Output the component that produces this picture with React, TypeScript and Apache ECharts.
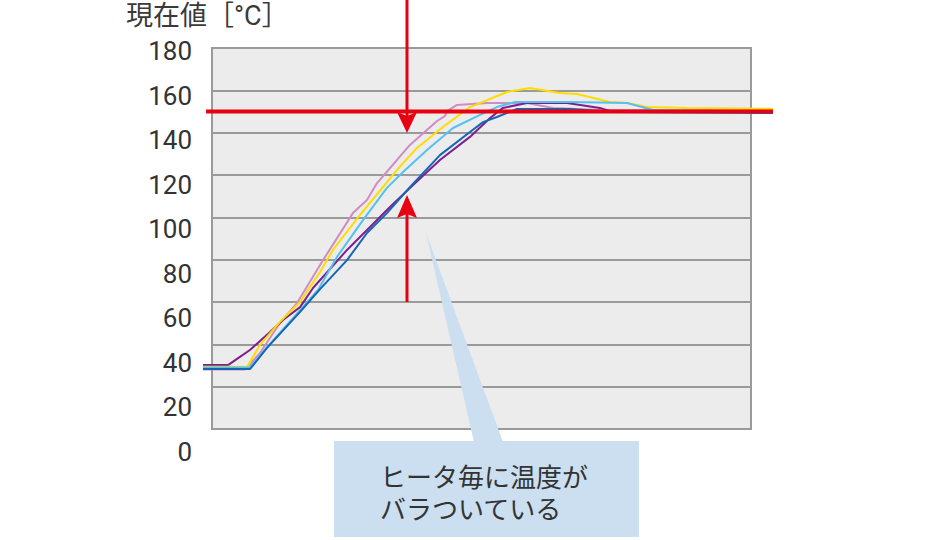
import React, { useEffect, useRef } from 'react';
import * as echarts from 'echarts';

// time [s] and temperature [°C]
const pinkSeries = [
  [0, 28.1], [22.1, 28.1], [30, 35.9], [40.5, 50.1], [49.5, 59.5], [63.2, 79.8],
  [78.9, 102], [86.3, 108.2], [91.6, 116.2], [102.1, 127.1], [108.9, 134.2],
  [123.2, 145.5], [127.4, 147.9], [128.4, 150.2], [133.7, 153.1], [149.5, 154],
  [170.5, 154], [184.2, 151.7], [208.9, 150.7], [300, 150.7],
];
const purpleSeries = [
  [0, 30.2], [13.2, 30.2], [17.9, 33.1], [24.7, 37.3], [35.3, 45.8], [42.1, 51.5],
  [51.1, 57.6], [57.9, 66.6], [75.8, 84.6], [87.9, 95.4], [98.4, 104.9],
  [108.9, 113.9], [124.7, 127.1], [140.5, 138], [151.1, 146.9], [157.9, 151.7],
  [170.5, 154], [191.6, 154], [208.9, 151.7], [215.8, 149.8], [300, 149.8],
];
const yellowSeries = [
  [0, 29.4], [23.2, 29.4], [30, 39.7], [40.5, 50.6], [51.1, 60], [61.6, 74.2],
  [68.4, 84.6], [82.6, 101.1], [94.7, 114.3], [102.1, 122.4], [112.6, 132.8],
  [126.3, 142.7], [140.5, 152.1], [160, 159.2], [172.1, 161.1], [187.9, 158.7],
  [196.8, 158.3], [214.2, 154.5], [223.2, 154], [233.7, 152.1], [254.7, 151.7],
  [300, 151.2],
];
const lightBlueSeries = [
  [0, 29.1], [24.7, 29.1], [33.7, 38.7], [51.1, 56.2], [60.5, 65.7], [70.5, 81.3],
  [84.2, 98.7], [96.8, 113.9], [105.3, 121.4], [117.9, 131.8], [131.6, 142.2],
  [145.8, 148.4], [154.7, 152.1], [164.2, 154.5], [193.2, 154.5], [223.2, 154],
  [236.8, 150.7], [300, 149.8],
];
const blueSeries = [
  [0, 28.3], [24.7, 28.3], [33.7, 38.3], [51.1, 55.3], [61.6, 66.1], [75.8, 79.8],
  [86.3, 92.6], [96.8, 102], [108.9, 114.3], [124.7, 129.4], [140.5, 140.3],
  [147.4, 145], [154.7, 147.4], [165.3, 151.2], [193.2, 151.2], [215.8, 149.8],
  [300, 149.3],
];
const targetLine = [[1.6, 150], [300, 150]];

const yTicks = { min: 0, max: 180, interval: 20 };
const yTitle = '現在値［°C］';
const calloutLines = ['ヒータ毎に温度が', 'バラついている'];

const App: React.FC = () => {
  const chartRef = useRef<HTMLDivElement>(null);

  useEffect(() => {
    if (!chartRef.current) return;
    const chart = echarts.init(chartRef.current, undefined, { renderer: 'svg' });

    const lineSeries = (data: number[][], color: string, width = 2) => ({
      type: 'line',
      xAxisIndex: 1,
      yAxisIndex: 1,
      data,
      symbol: 'none',
      silent: true,
      lineStyle: { color, width },
    });

    chart.setOption({
      animation: false,
      textStyle: { fontFamily: 'Roboto, "Noto Sans CJK JP", sans-serif' },
      grid: [
        {
          left: 212, right: 189, top: 48, bottom: 111,
          show: true, backgroundColor: '#ececec', borderColor: '#9a9a9a', borderWidth: 2,
        },
        { left: 203, right: 167, top: 48, bottom: 111 },
        { left: 200, right: 500, top: 51, bottom: 88 },
      ],
      xAxis: [
        { gridIndex: 0, type: 'value', min: 0, max: 1, show: false },
        { gridIndex: 1, type: 'value', min: 0, max: 300, show: false },
        { gridIndex: 2, type: 'value', min: 0, max: 1, show: false },
      ],
      yAxis: [
        {
          gridIndex: 0, type: 'value', ...yTicks,
          axisLine: { show: false }, axisTick: { show: false }, axisLabel: { show: false },
          splitLine: { show: true, lineStyle: { color: '#9a9a9a', width: 2 } },
        },
        { gridIndex: 1, type: 'value', ...yTicks, show: false },
        {
          gridIndex: 2, type: 'value', ...yTicks,
          axisLine: { show: false }, axisTick: { show: false }, splitLine: { show: false },
          axisLabel: { fontSize: 26, color: '#333', margin: 8 },
        },
      ],
      series: [
        lineSeries(pinkSeries, '#d08cc4'),
        lineSeries(purpleSeries, '#7f1f8c'),
        lineSeries(yellowSeries, '#ffdc00'),
        lineSeries(lightBlueSeries, '#55c1ee'),
        lineSeries(blueSeries, '#1565b5'),
        lineSeries(targetLine, '#e60012', 4),
      ],
      graphic: [
        {
          type: 'text', left: 126, top: 2, z: 100,
          style: {
            text: yTitle, fontSize: 27, fill: '#3a3a3a', fontWeight: 'normal',
            fontFamily: 'Roboto, "Noto Sans CJK JP"',
          },
        },
        // upper arrow
        { type: 'line', z: 100, shape: { x1: 407, y1: 0, x2: 407, y2: 116 }, style: { stroke: '#e60012', lineWidth: 3 } },
        { type: 'polygon', z: 100, shape: { points: [[397, 112], [407, 116], [417, 112], [407, 133]] }, style: { fill: '#e60012' } },
        // lower arrow
        { type: 'line', z: 100, shape: { x1: 407, y1: 214, x2: 407, y2: 302 }, style: { stroke: '#e60012', lineWidth: 3 } },
        { type: 'polygon', z: 100, shape: { points: [[397, 218], [407, 214], [417, 218], [407, 195]] }, style: { fill: '#e60012' } },
        // callout
        { type: 'polygon', z: 90, shape: { points: [[426, 233], [474, 442], [503, 442]] }, style: { fill: '#cbdff0' } },
        { type: 'rect', z: 90, shape: { x: 334, y: 441, width: 305, height: 96 }, style: { fill: '#cbdff0' } },
        ...calloutLines.map((line, i) => ({
          type: 'text', z: 100, x: 380, y: 475 + i * 32,
          style: {
            text: line, fontSize: 26, fill: '#333',
            fontFamily: '"Noto Sans CJK JP", sans-serif', verticalAlign: 'middle',
          },
        })),
      ],
    });

    return () => {
      chart.dispose();
    };
  }, []);

  return (
    <div
      ref={chartRef}
      style={{ position: 'fixed', left: 0, top: 0, width: '940px', height: '540px', background: '#fff' }}
    />
  );
};

export default App;
